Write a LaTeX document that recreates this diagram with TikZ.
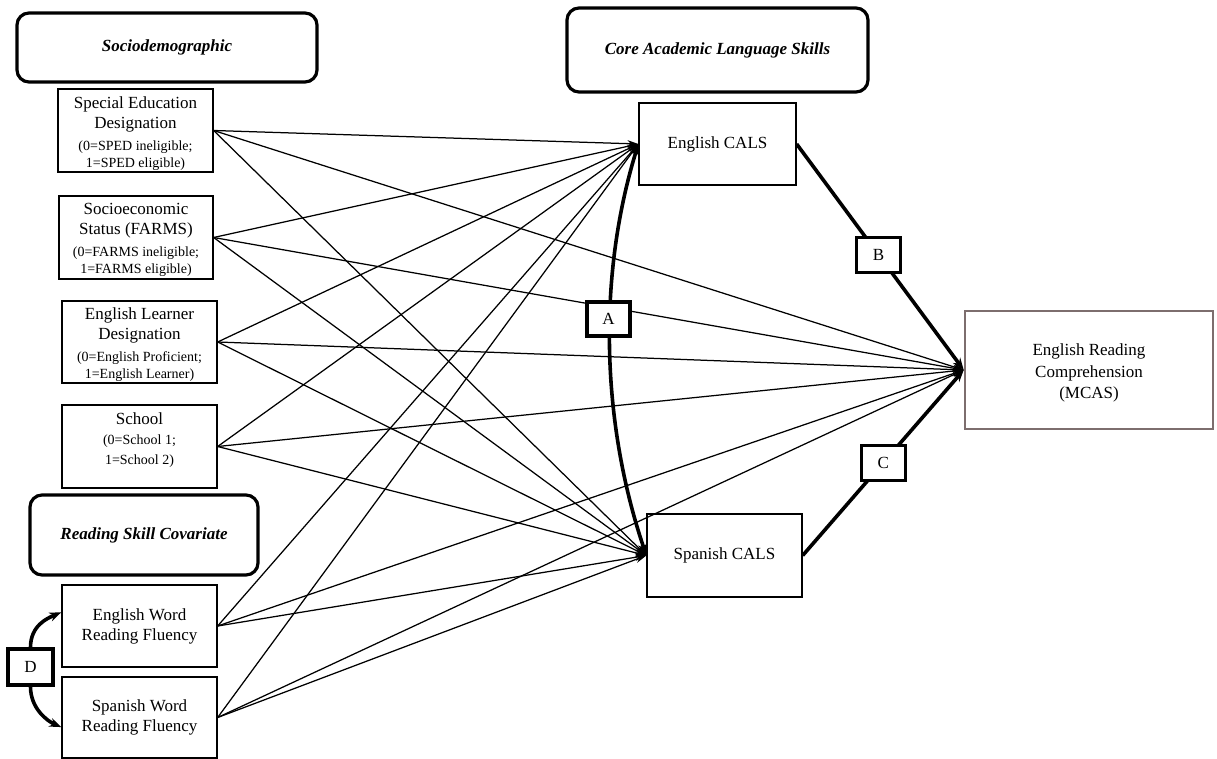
\documentclass[tikz,border=0pt]{standalone}
\usepackage{fontspec}
\setmainfont{Liberation Serif}
\usetikzlibrary{arrows.meta}
\newcommand{\mainsz}{\fontsize{17}{20}\selectfont}
\newcommand{\smallsz}{\fontsize{14}{16}\selectfont}
\definecolor{ercgray}{RGB}{125,110,110}
\begin{document}
\begin{tikzpicture}[x=1pt,y=-1pt,
  hdr/.style={draw, line width=3.2pt, rounded corners=12pt, font=\mainsz\bfseries\itshape, inner sep=0pt},
  var/.style={draw, line width=1.3pt, align=center, font=\mainsz, inner sep=0pt},
  txt/.style={align=center, font=\mainsz, inner sep=0pt},
  lab/.style={draw, line width=3.2pt, fill=white, font=\mainsz, inner sep=0pt, minimum width=44pt, minimum height=35pt},
  link/.style={line width=1.25pt, -{Stealth[length=11pt,width=7pt]}},
  thickpath/.style={line width=3.6pt, >={Stealth[length=12pt,width=9pt]}},
]
\useasboundingbox (0,0) rectangle (1217,759);
\fill[white] (0,0) rectangle (1217,759);

% headers
\node[hdr, minimum width=300pt, minimum height=69pt] (soc) at (167,47.5) {Sociodemographic};
\node[hdr, minimum width=228pt, minimum height=80pt] (rsc) at (144,535) {Reading Skill Covariate};
\node[hdr, minimum width=301pt, minimum height=84pt] (core) at (717.5,50) {Core Academic Language Skills};

% predictors
\node[var, minimum width=155pt, minimum height=83pt] (sped) at (135.5,130.5) {};
\node[txt] (spedtxt) at (135.5,134)
  {Special Education\\Designation\\[2pt]\smallsz(0=SPED ineligible;\\[-3pt]\smallsz 1=SPED eligible)};
\node[var, minimum width=154pt, minimum height=83pt] (ses) at (136,237.5) {};
\node[txt] (sestxt) at (136,240)
  {Socioeconomic\\Status (FARMS)\\[2pt]\smallsz(0=FARMS ineligible;\\[-3pt]\smallsz 1=FARMS eligible)};
\node[var, minimum width=155pt, minimum height=82pt] (el) at (139.5,342) {};
\node[txt] (eltxt) at (139.5,345)
  {English Learner\\Designation\\[2pt]\smallsz(0=English Proficient;\\[-3pt]\smallsz 1=English Learner)};
\node[var, minimum width=155pt, minimum height=83pt] (school) at (139.5,446.5) {};
\node[txt] (schooltxt) at (139.5,440) {School\\[0pt]\smallsz(0=School 1;\\[0pt]\smallsz 1=School 2)};
\node[var, minimum width=155pt, minimum height=82pt] (ewrf) at (139.5,626) {English Word\\Reading Fluency};
\node[var, minimum width=155pt, minimum height=81pt] (swrf) at (139.5,717.5) {Spanish Word\\Reading Fluency};

% mediators and outcome
\node[var, minimum width=157pt, minimum height=82pt] (ecals) at (717.5,144) {English CALS};
\node[var, minimum width=155pt, minimum height=83pt] (scals) at (724.5,555.5) {Spanish CALS};
\node[var, draw=ercgray, line width=2.6pt, minimum width=248pt, minimum height=118pt] (erc) at (1089,370) {};
\node[txt] (erctxt) at (1089,373) {English Reading\\[1.5pt]Comprehension\\[1.5pt](MCAS)};

% thin paths
\foreach \s in {sped,ses,el,school,ewrf,swrf}{
  \draw[link] (\s.east) -- (ecals.west);
  \draw[link] (\s.east) -- (scals.west);
  \draw[link] (\s.east) -- (erc.west);
}

% A covariance
\draw[thickpath, <->]
  (ecals.west) .. controls +(-41,133) and +(-45,-133) .. (scals.west);
\node[lab, minimum width=43pt, minimum height=34pt] (A) at (608.5,319) {A};

% B and C
\draw[thickpath, ->] (ecals.east) -- node[lab, pos=0.49] (B) {B} (erc.west);
\draw[thickpath, ->] (scals.east) -- node[lab, pos=0.5] (C) {C} (erc.west);

% D covariance
\node[lab, minimum width=45pt, minimum height=36pt] (D) at (30.5,667) {D};
\draw[thickpath, ->] (D.north) .. controls +(0,-22) and +(-14,6) .. (ewrf.170);
\draw[thickpath, ->] (D.south) .. controls +(0,22) and +(-14,-6) .. (swrf.187);
\end{tikzpicture}
\end{document}
